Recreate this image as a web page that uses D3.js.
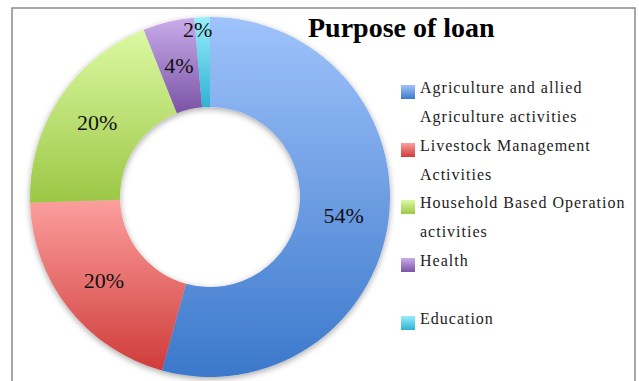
<!DOCTYPE html>
<meta charset="utf-8">
<script src="https://d3js.org/d3.v7.min.js"></script>
<style>
  body { margin: 0; background: #fff; }
</style>
<svg id="chart" width="639" height="381"></svg>

<script>

// data
var categories = ["Agriculture and allied Agriculture activities",
                  "Livestock Management Activities",
                  "Household Based Operation activities",
                  "Health",
                  "Education"];
var values = [54.3, 20.2, 19.5, 4.6, 1.4];
var labels = ["54%", "20%", "20%", "4%", "2%"];
var legendLines = [["Agriculture and allied", "Agriculture activities"],
                   ["Livestock Management", "Activities"],
                   ["Household Based Operation", "activities"],
                   ["Health"],
                   ["Education"]];

// light / dark end of each slice gradient
var topColors = ["#9fc3fb", "#fc9f9d", "#dcf9a3", "#c9acea", "#98eefa"];
var bottomColors = ["#3b78cb", "#cf3c3a", "#9cc745", "#7a53a6", "#2eb3d4"];

var svg = d3.select("#chart");

// frame
svg.append("rect")
    .attr("x", 12).attr("y", 8)
    .attr("width", 623).attr("height", 390)
    .attr("fill", "#fff")
    .attr("stroke", "#8a8a8a")
    .attr("stroke-width", 1.5);

var defs = svg.append("defs");

categories.forEach(function(c, i) {
  var g = defs.append("linearGradient")
      .attr("id", "grad" + i)
      .attr("x1", 0).attr("y1", 0).attr("x2", 0).attr("y2", 1);
  g.append("stop").attr("offset", "0%").attr("stop-color", topColors[i]);
  g.append("stop").attr("offset", "100%").attr("stop-color", bottomColors[i]);
});

// soft shadow like the office chart
var shadow = defs.append("filter").attr("id", "shadow")
    .attr("x", "-20%").attr("y", "-20%").attr("width", "140%").attr("height", "140%");
shadow.append("feDropShadow")
    .attr("dx", 0).attr("dy", 2)
    .attr("stdDeviation", 3)
    .attr("flood-color", "#000")
    .attr("flood-opacity", 0.35);

var cx = 210, cy = 197, outerR = 180, innerR = 90;

var pie = d3.pie().sort(null).value(function(d){ return d; });
var arc = d3.arc().innerRadius(innerR).outerRadius(outerR);
var labelArc = d3.arc().innerRadius(135).outerRadius(135);

var arcs = pie(values);

var donut = svg.append("g")
    .attr("transform", "translate(" + cx + "," + cy + ")");

donut.append("g")
    .attr("filter", "url(#shadow)")
  .selectAll("path")
  .data(arcs)
  .enter()
  .append("path")
    .attr("d", arc)
    .attr("fill", function(d, i){ return "url(#grad" + i + ")"; });

donut.selectAll("text.lbl")
  .data(arcs)
  .enter()
  .append("text")
    .attr("class", "lbl")
    .attr("transform", function(d, i) {
      // last label is pushed outside the ring (too small slice)
      var p = i === arcs.length - 1
        ? d3.arc().innerRadius(168).outerRadius(168).centroid(d)
        : labelArc.centroid(d);
      if (i === arcs.length - 1) p[0] = p[0] - 5;
      return "translate(" + p + ")";
    })
    .attr("text-anchor", "middle")
    .attr("dominant-baseline", "central")
    .style("font-family", "'Liberation Serif', serif")
    .style("font-size", "22px")
    .style("fill", "#111")
    .text(function(d, i){ return labels[i]; });

// title
svg.append("text")
    .attr("x", 308).attr("y", 37)
    .style("font-family", "'Liberation Serif', serif")
    .style("font-weight", "bold")
    .style("font-size", "28px")
    .style("fill", "#000")
    .text("Purpose of loan");

// legend
var legendTop = [85, 143, 200, 258, 316];
var legend = svg.append("g");

var item = legend.selectAll("g")
  .data(categories)
  .enter()
  .append("g")
    .attr("transform", function(d, i){ return "translate(401," + legendTop[i] + ")"; });

item.append("rect")
    .attr("width", 14).attr("height", 14)
    .attr("fill", function(d, i){ return "url(#grad" + i + ")"; });

item.append("text")
    .style("font-family", "'Liberation Serif', serif")
    .style("font-size", "16px")
    .style("letter-spacing", "1px")
    .style("fill", "#222")
  .selectAll("tspan")
  .data(function(d, i){ return legendLines[i]; })
  .enter()
  .append("tspan")
    .attr("x", 19)
    .attr("y", function(d, j){ return 8 + j * 29; })
    .text(function(d){ return d; });

</script>
